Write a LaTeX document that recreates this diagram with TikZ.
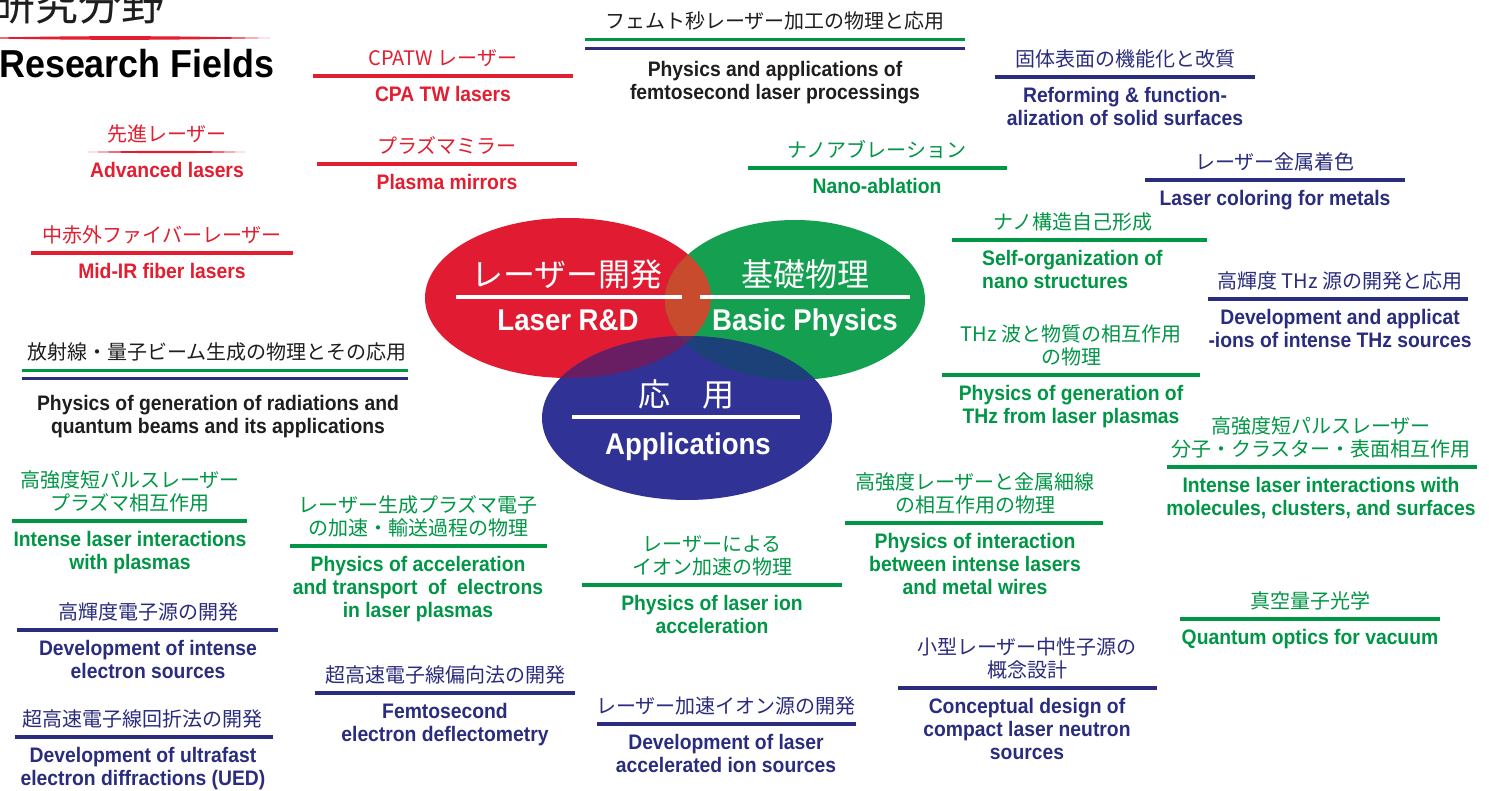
\documentclass[tikz,border=0pt]{standalone}
\usepackage{fontspec}
\newfontfamily\jpf{Noto Sans CJK JP}
\newfontfamily\enf[FakeStretch=0.92]{Liberation Sans}
\definecolor{cred}{RGB}{226,30,48}
\definecolor{cgreen}{RGB}{0,150,70}
\definecolor{cblue}{RGB}{42,44,125}
\definecolor{cblack}{RGB}{30,30,30}
\definecolor{ered}{RGB}{225,28,50}
\definecolor{egreen}{RGB}{20,160,80}
\definecolor{eblue}{RGB}{48,50,150}
\definecolor{orgb}{RGB}{200,75,45}
\definecolor{rbl}{RGB}{105,30,100}
\definecolor{gbl}{RGB}{28,65,120}
\definecolor{rgbl}{RGB}{95,42,100}
\tikzset{
  jp/.style={font=\jpf\fontsize{20}{23}\selectfont, inner sep=0pt, align=center},
  en/.style={font=\enf\bfseries\fontsize{21}{23}\selectfont, inner sep=0pt, align=center},
  sepline/.style={line width=4.5pt},
  thinsep/.style={line width=3pt},
  bigjp/.style={font=\jpf\fontsize{32}{36}\selectfont, text=white, inner sep=0pt, anchor=base},
  bigen/.style={font=\enf\bfseries\fontsize{30}{32}\selectfont, text=white, inner sep=0pt, anchor=base},
  whiteline/.style={white, line width=4pt},
}
% name, colour, centre x, line y, line x1, line x2, japanese, english
\newcommand\fieldlabel[8]{%
  \draw[sepline,#2] (#5,#4) -- (#6,#4);
  \node[jp,text=#2,anchor=south] (#1-jp) at (#3,#4-9) {#7};
  \node[en,text=#2,anchor=north] (#1-en) at (#3,#4+10) {#8};
}
\begin{document}
\begin{tikzpicture}[x=1pt,y=-1pt]
\useasboundingbox (0,0) rectangle (1489,791);
\fill[white] (0,0) rectangle (1489,791);

% title
\node[font=\jpf\fontsize{43}{43}\selectfont, text=cblack, inner sep=0pt, anchor=base west] (title-jp) at (-8,21) {研究分野};
\fill[cred] (-30,38) to[out=-1.2,in=181.2] (270,38) to[out=178.8,in=1.2] (-30,38);
\node[font=\enf\bfseries\fontsize{39}{40}\selectfont, text=black, inner sep=0pt, anchor=base west] (title-en) at (-1,78) {Research Fields};

% ellipses
\fill[ered] (568,298) ellipse [x radius=143pt, y radius=80pt];
\fill[egreen] (795,300) ellipse [x radius=130pt, y radius=80pt];
\fill[eblue] (687,418) ellipse [x radius=145pt, y radius=82pt];
\begin{scope}
  \clip (568,298) ellipse [x radius=143pt, y radius=80pt];
  \fill[orgb] (795,300) ellipse [x radius=130pt, y radius=80pt];
  \fill[rbl] (687,418) ellipse [x radius=145pt, y radius=82pt];
  \clip (795,300) ellipse [x radius=130pt, y radius=80pt];
  \fill[rgbl] (687,418) ellipse [x radius=145pt, y radius=82pt];
\end{scope}
\begin{scope}
  \clip (795,300) ellipse [x radius=130pt, y radius=80pt];
  \clip (687,418) ellipse [x radius=145pt, y radius=82pt];
  \fill[gbl] (568,298) ellipse [x radius=500pt, y radius=300pt];
  \clip (568,298) ellipse [x radius=143pt, y radius=80pt];
  \fill[rgbl] (568,298) ellipse [x radius=500pt, y radius=300pt];
\end{scope}

% ellipse texts
\node[bigjp] (laser-jp) at (567,287) {レーザー開発};
\draw[whiteline] (456,297) -- (682,297);
\node[bigen] (laser-en) at (568,331) {Laser R\&D};
\node[bigjp] (basic-jp) at (805,287) {基礎物理};
\draw[whiteline] (700,297) -- (910,297);
\node[bigen] (basic-en) at (805,331) {Basic Physics};
\node[bigjp] (app-jp) at (686,407) {応　用};
\draw[whiteline] (572,417) -- (800,417);
\node[bigen] (app-en) at (688,454) {Applications};

% labels
\fieldlabel{cpa}{cred}{443}{76}{313}{573}{CPATW レーザー}{CPA TW lasers}
\fieldlabel{koti}{cblue}{1125}{77}{995}{1255}{固体表面の機能化と改質}{Reforming \& function-\\alization of solid surfaces}
\fieldlabel{plm}{cred}{447}{164}{317}{577}{プラズマミラー}{Plasma mirrors}
\fieldlabel{nab}{cgreen}{877}{168}{748}{1007}{ナノアブレーション}{Nano-ablation}
\fieldlabel{lmc}{cblue}{1275}{180}{1145}{1405}{レーザー金属着色}{Laser coloring for metals}
\fieldlabel{mir}{cred}{162}{253}{31}{293}{中赤外ファイバーレーザー}{Mid-IR fiber lasers}
\fieldlabel{thzs}{cblue}{1340}{299}{1208}{1468}{高輝度 THz 源の開発と応用}{Development and applicat\\-ions of intense THz sources}
\fieldlabel{thzw}{cgreen}{1071}{375}{942}{1200}{THz 波と物質の相互作用\\の物理}{Physics of generation of\\THz from laser plasmas}
\fieldlabel{mcs}{cgreen}{1321}{467}{1167}{1477}{高強度短パルスレーザー\\分子・クラスター・表面相互作用}{Intense laser interactions with\\molecules, clusters, and surfaces}
\fieldlabel{ilp}{cgreen}{130}{521}{12}{247}{高強度短パルスレーザー\\プラズマ相互作用}{Intense laser interactions\\with plasmas}
\fieldlabel{acc}{cgreen}{418}{546}{290}{547}{レーザー生成プラズマ電子\\の加速・輸送過程の物理}{Physics of acceleration\\and transport\ \ of\ \ electrons\\in laser plasmas}
\fieldlabel{wire}{cgreen}{975}{523}{845}{1103}{高強度レーザーと金属細線\\の相互作用の物理}{Physics of interaction\\between intense lasers\\and metal wires}
\fieldlabel{ion}{cgreen}{712}{585}{582}{842}{レーザーによる\\イオン加速の物理}{Physics of laser ion\\acceleration}
\fieldlabel{qov}{cgreen}{1310}{619}{1180}{1440}{真空量子光学}{Quantum optics for vacuum}
\fieldlabel{ies}{cblue}{148}{630}{17}{278}{高輝度電子源の開発}{Development of intense\\electron sources}
\fieldlabel{ued}{cblue}{143}{737}{15}{273}{超高速電子線回折法の開発}{Development of ultrafast\\electron diffractions (UED)}
\fieldlabel{fed}{cblue}{445}{693}{315}{575}{超高速電子線偏向法の開発}{Femtosecond\\electron deflectometry}
\fieldlabel{lai}{cblue}{726}{724}{597}{856}{レーザー加速イオン源の開発}{Development of laser\\accelerated ion sources}
\fieldlabel{cln}{cblue}{1027}{688}{898}{1157}{小型レーザー中性子源の\\概念設計}{Conceptual design of\\compact laser neutron\\sources}

% advanced lasers (tapered line)
\fill[cred] (88,152) to[out=-1.5,in=181.5] (245,152) to[out=178.5,in=1.5] (88,152);
\node[jp,text=cred,anchor=south] (adv-jp) at (167,143) {先進レーザー};
\node[en,text=cred,anchor=north] (adv-en) at (167,162) {Advanced lasers};

% nano structures (left aligned English)
\draw[sepline,cgreen] (952,240) -- (1207,240);
\node[jp,text=cgreen,anchor=south] (nano-jp) at (1073,231) {ナノ構造自己形成};
\node[en,text=cgreen,anchor=north west,align=left] (nano-en) at (982,250) {Self-organization of\\nano structures};

% femtosecond processing (double line)
\node[jp,text=cblack,anchor=south] (femto-jp) at (775,30) {フェムト秒レーザー加工の物理と応用};
\draw[thinsep,cgreen] (585,40) -- (965,40);
\draw[thinsep,cblue] (585,49) -- (965,49);
\node[en,text=cblack,anchor=north] (femto-en) at (775,61) {Physics and applications of\\femtosecond laser processings};

% radiation / quantum beams (double line)
\node[jp,text=cblack,anchor=south] (rad-jp) at (217,361) {放射線・量子ビーム生成の物理とその応用};
\draw[thinsep,cgreen] (22,371) -- (408,371);
\draw[thinsep,cblue] (22,379) -- (408,379);
\node[en,text=cblack,anchor=north] (rad-en) at (218,395) {Physics of generation of radiations and\\quantum beams and its applications};
\end{tikzpicture}
\end{document}
